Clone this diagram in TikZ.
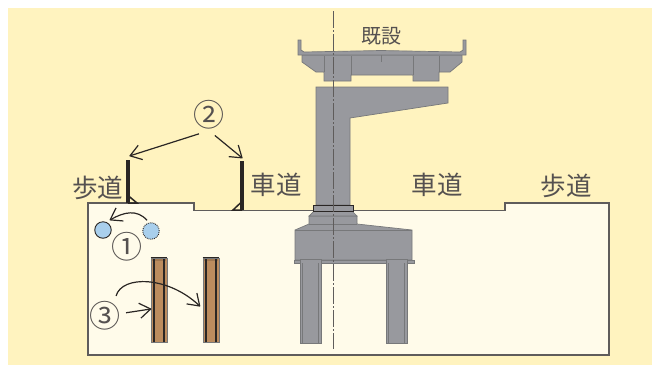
\documentclass[tikz,border=0pt]{standalone}
\usepackage{fontspec}
\newfontfamily\jpfont{Noto Sans CJK JP}
\usetikzlibrary{arrows.meta}
\definecolor{bgyellow}{HTML}{FFF3BF}
\definecolor{soil}{HTML}{FFFBEA}
\definecolor{concrete}{HTML}{98999E}
\definecolor{edgegray}{HTML}{77787A}
\definecolor{woodbrown}{HTML}{BC8C5E}
\definecolor{pipeblue}{HTML}{A9CFEC}
\definecolor{inkdark}{HTML}{2A2624}
\pgfdeclarearrow{
  name = VeeTip,
  setup code = {
    \pgfarrowssettipend{0pt}
    \pgfarrowssetlineend{-1pt}
    \pgfarrowssetvisualbackend{-11pt}
    \pgfarrowssetbackend{-11pt}
    \pgfarrowshullpoint{0pt}{0pt}
    \pgfarrowshullpoint{-11pt}{7.5pt}
    \pgfarrowshullpoint{-11pt}{-7.5pt}
  },
  drawing code = {
    \pgfsetdash{}{0pt}
    \pgfsetroundjoin
    \pgfsetbuttcap
    \pgfpathmoveto{\pgfqpoint{-11pt}{7.5pt}}
    \pgfpathlineto{\pgfqpoint{0pt}{0pt}}
    \pgfpathlineto{\pgfqpoint{-11pt}{-7.5pt}}
    \pgfusepathqstroke
  }
}
\begin{document}
\begin{tikzpicture}[x=1pt,y=-1pt]

\tikzset{roadlabel/.style={inner sep=0pt,text=inkdark!80,font=\jpfont\fontsize{25.5}{25.5}\selectfont},}
\tikzset{existlabel/.style={inner sep=0pt,text=inkdark!80,font=\jpfont\fontsize{20}{20}\selectfont},}
\tikzset{numlabel/.style={circle,minimum size=27pt,inner sep=0pt,text=inkdark!80,font=\jpfont\fontsize{31}{31}\selectfont},}
\tikzset{pipe/.style={circle,minimum size=16.5pt,inner sep=0pt,draw=inkdark,line width=.9pt,fill=pipeblue},}
\tikzset{pipeold/.style={pipe,densely dotted},}
\tikzset{pilebar/.style={rectangle,minimum width=16pt,minimum height=84pt,inner sep=0pt,draw=edgegray,line width=.6pt,fill=woodbrown},}
\tikzset{wallbar/.style={rectangle,minimum width=3.2pt,inner sep=0pt,fill=inkdark},}
\tikzset{conc/.style={fill=concrete,draw=edgegray,line width=.7pt},}
\tikzset{arr/.style={-{VeeTip},line width=1.2pt,draw=inkdark},}

\useasboundingbox (0,0) rectangle (661,365);
\fill[bgyellow] (8,8) rectangle (652,365);

%GROUND
\draw[fill=soil,draw=inkdark!75,line width=1.2pt] (88,203) -- (194,203) -- (194,210.5) -- (505,210.5) -- (505,203) -- (609,203) -- (609,355) -- (88,355) -- cycle;

%DECK
\draw[conc] (302,55) -- (302,62) -- (316,72) -- (324,72) -- (324,81) -- (351,81) -- (351,75) -- (413,75) -- (413,81) -- (439,81) -- (439,72) -- (450,72) -- (462,62) -- (462,55) -- cycle;
\draw[conc] (298,40) -- (301,40) -- (301,50) -- (304,52) -- (381,50.5) -- (460,52) -- (463,50) -- (463,40) -- (466,40) -- (466,55) -- (298,55) -- cycle;
\draw[edgegray,line width=.7pt] (324,56) -- (324,72) (351,56) -- (351,75) (413,56) -- (413,75) (439,56) -- (439,72);
\draw[edgegray,line width=.7pt] (381,55) -- (381,62);
\draw (381,36.5) node [existlabel] (kisetsu) {既設};

%PIER
\draw[conc] (316,87) -- (448,87) -- (448,103) -- (350,118) -- (350,205) -- (316,205) -- cycle;
\draw[conc] (294,260) rectangle (414,263);
\draw[conc] (309,216) -- (357,216) -- (357,224) -- (412,230) -- (412,260) -- (295,260) -- (295,230) -- (309,224) -- cycle;
\draw[edgegray,line width=.7pt] (295,230) -- (412,230) (309,224) -- (357,224);
\draw[conc] (314,211) -- (352,211) -- (357,216) -- (309,216) -- cycle;
\draw[fill=concrete,draw=inkdark,line width=.9pt] (313,205) rectangle (353,211);

%PILES UNDER THE PIER
\draw[conc] (300,259) rectangle (321,343);
\draw[conc] (386,259) rectangle (407,343);
\draw[edgegray,line width=1.5pt] (302.5,263) -- (302.5,343) (318.5,263) -- (318.5,343) (388.5,263) -- (388.5,343) (404.5,263) -- (404.5,343);

%CENTER LINE
\draw[inkdark!75,line width=1pt,dash pattern=on 17pt off 2pt on 2pt off 2pt] (333,11) -- (333,349);

%LABELS
\draw (97.5,187.5) node [roadlabel] (hodoL) {歩道};
\draw (276,185) node [roadlabel] (shadoL) {車道};
\draw (437,185) node [roadlabel] (shadoR) {車道};
\draw (566,186) node [roadlabel] (hodoR) {歩道};

%WALLS
\draw (128,181.5) node [wallbar,minimum height=43pt] (wallL) {};
\draw (242,185.5) node [wallbar,minimum height=49pt] (wallR) {};
\draw[inkdark,line width=1.5pt] (128,195.5) -- (137,203) -- (128,203);
\draw[inkdark,line width=1.5pt] (242,201.5) -- (233,210) -- (242,210);
\draw (209,115) node [numlabel] (num2) {②};
\draw[arr] (num2.242) -- ([xshift=2pt,yshift=4pt]wallL.north);
\draw[arr] (num2.286) -- ([yshift=3pt]wallR.north);

%PIPES
\draw (103,230) node [pipe] (pipenew) {};
\draw (151,231) node [pipeold] (pipeold1) {};
\draw (127,247) node [numlabel] (num1) {①};
\draw[arr] (pipeold1.north) ++(-4,-2) coordinate (pipestart) .. controls (137,209) and (124,212) .. ([xshift=1pt,yshift=4pt]pipenew.north east);

%WOOD PILES
\draw (159,300) node [pilebar] (pile1) {};
\draw (211,300) node [pilebar] (pile2) {};
\foreach \p in {1,2}{
\fill[woodbrown!85!black] ([xshift=1.5pt,yshift=-1pt]pile\p.north west) rectangle ([xshift=-1.5pt,yshift=-3.5pt]pile\p.north east);
\draw[inkdark,line width=1.9pt] ([xshift=3pt]pile\p.south west) -- ([xshift=3pt,yshift=-1pt]pile\p.north west);
\draw[inkdark,line width=1.9pt] ([xshift=-3pt]pile\p.south east) -- ([xshift=-3pt,yshift=-1pt]pile\p.north east);
\draw[inkdark,line width=.9pt] (pile\p.north west) -- (pile\p.north east);
}
\draw (105,316) node [numlabel] (num3) {③};
\draw[arr] (num3) -- ([yshift=-9pt]pile1.west);
\draw[arr] (num3.north east) ++(-4,-5) coordinate (numstart) .. controls (122,275) and (168,276) .. ([xshift=-3pt,yshift=-6pt]pile2.west);

\end{tikzpicture}
\end{document}
